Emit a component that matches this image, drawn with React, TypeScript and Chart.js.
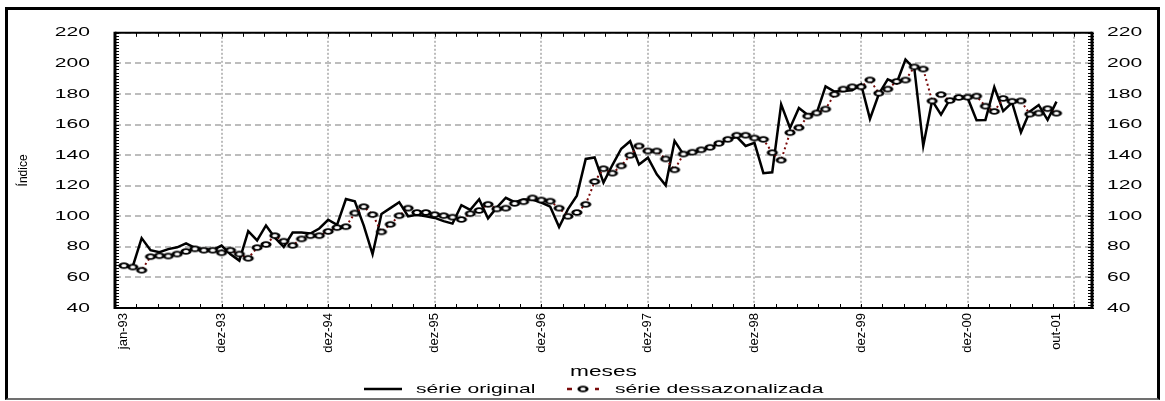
import React, { useEffect, useRef } from 'react';
import { Chart, registerables } from 'chart.js';

Chart.register(...registerables);

// ---------- data ----------
const MONTH_ABBR = ['jan', 'fev', 'mar', 'abr', 'mai', 'jun', 'jul', 'ago', 'set', 'out', 'nov', 'dez'];
const YEARS = ['93', '94', '95', '96', '97', '98', '99', '00', '01'];
const MONTHS: string[] = [];
YEARS.forEach((y) => MONTH_ABBR.forEach((m) => MONTHS.push(`${m}-${y}`)));
MONTHS.length = 106; // jan-93 .. out-01

const SERIE_ORIGINAL = [
  67.5, 67.2, 85.7, 77.8, 76.5, 78.5, 79.7, 82.3, 79.3, 78.5, 77.8, 80.8,
  75.2, 71.0, 90.2, 84.2, 94.0, 86.0, 79.9, 89.4, 89.4, 88.7, 92.0, 97.7,
  94.4, 111.3, 109.8, 94.0, 75.2, 101.5, 105.3, 109.2, 100.0, 101.0, 100.0, 98.9,
  96.8, 95.2, 107.2, 104.2, 111.1, 98.6, 105.8, 112.1, 109.2, 111.0, 111.0, 109.0,
  106.3, 93.0, 104.7, 113.5, 137.5, 138.5, 122.0, 133.5, 144.2, 149.1, 133.8, 138.3,
  127.5, 120.2, 149.3, 140.5, 141.5, 143.0, 145.0, 147.5, 150.0, 152.0, 146.0, 148.0,
  128.2, 128.8, 173.2, 157.8, 170.8, 166.3, 167.5, 185.0, 181.6, 182.0, 182.4, 186.4,
  163.7, 180.0, 189.5, 187.0, 202.5, 196.5, 146.0, 175.7, 166.5, 176.4, 177.0, 177.4,
  162.8, 163.0, 184.5, 168.8, 174.4, 154.9, 168.5, 172.8, 163.0, 175.0,
];

const SERIE_DESSAZ = [
  67.7, 66.8, 64.7, 73.6, 74.2, 74.0, 75.3, 77.0, 78.7, 77.8, 77.8, 76.1,
  77.8, 75.3, 72.5, 79.5, 81.6, 87.3, 83.7, 81.0, 85.2, 87.3, 87.3, 90.1,
  92.6, 93.2, 102.1, 106.3, 101.1, 89.8, 94.7, 100.4, 105.3, 102.5, 102.5, 101.1,
  100.4, 99.4, 97.9, 101.7, 103.8, 107.8, 104.8, 105.3, 108.4, 109.5, 112.0, 110.6,
  109.9, 105.3, 100.0, 102.5, 107.8, 122.7, 131.1, 128.2, 133.0, 139.9, 146.0, 142.7,
  142.7, 137.5, 130.4, 140.7, 141.9, 143.5, 145.1, 147.7, 150.3, 153.0, 153.0, 151.2,
  150.3, 141.6, 136.7, 154.7, 157.9, 165.5, 167.6, 170.1, 179.8, 183.2, 184.7, 184.7,
  189.2, 180.5, 183.2, 188.2, 189.1, 197.7, 196.3, 175.4, 179.6, 175.7, 177.7, 177.9,
  178.6, 172.0, 168.6, 177.1, 175.2, 175.5, 166.8, 167.5, 170.4, 167.4,
];

const LABELED_TICKS = [0, 11, 23, 35, 47, 59, 71, 83, 95, 105];
const GRID_TICKS = [11, 23, 35, 47, 59, 71, 83, 95, 107];
const X_MIN = -1;
const X_MAX = 109;
const X_MINOR_PER_MAJOR = 5;
const Y_MIN = 40;
const Y_MAX = 220;
const Y_STEP = 20;
const Y_MINOR = 2;

const SERIES_NAMES = ['série original', 'série dessazonalizada'];

// ---------- styling ----------
const FONT = '"Liberation Sans", Arial, sans-serif';
const TEXT_SX = 1.62; // horizontal stretch of upright text, as in the reference
const GRID_COLOR = '#bdbdbd';
const DESSAZ_COLOR = '#7a0a0a';

function makeEllipse(): HTMLCanvasElement {
  const c = document.createElement('canvas');
  c.width = 14;
  c.height = 9;
  const g = c.getContext('2d')!;
  g.save();
  g.translate(7, 4.5);
  g.scale(1.7, 1);
  g.beginPath();
  g.arc(0, 0, 2.45, 0, Math.PI * 2);
  g.fillStyle = '#ffffff';
  g.fill();
  g.lineWidth = 1.7;
  g.strokeStyle = '#000000';
  g.stroke();
  g.restore();
  return c;
}

const stretchTextPlugin = {
  id: 'stretchText',
  beforeInit(chart: any) {
    const ctx = chart.ctx as any;
    const orig = ctx.fillText.bind(ctx);
    ctx.fillText = function (text: string, x: number, y: number, maxWidth?: number) {
      const m = ctx.getTransform();
      const rotated = Math.abs(m.b) > 1e-6 || Math.abs(m.c) > 1e-6;
      if (!rotated) {
        const p = m.transformPoint(new DOMPoint(x, y));
        const s = new DOMMatrix()
          .translate(p.x, p.y)
          .scale(TEXT_SX, 1)
          .translate(-p.x, -p.y)
          .multiply(m);
        ctx.setTransform(s);
      }
      if (maxWidth === undefined || maxWidth === null) orig(text, x, y);
      else orig(text, x, y, maxWidth);
      ctx.setTransform(m);
    };
  },
};

const framePlugin = {
  id: 'frame',
  beforeDatasetsDraw(chart: any) {
    const { ctx, chartArea, scales } = chart;
    const { left, right, top, bottom } = chartArea;
    const x = scales.x;
    const y = scales.y;
    ctx.save();
    ctx.strokeStyle = '#000';
    ctx.setLineDash([]);
    ctx.lineWidth = 1;
    ctx.beginPath();
    for (let v = Y_MIN; v <= Y_MAX; v += Y_MINOR) {
      const py = Math.round(y.getPixelForValue(v)) + 0.5;
      ctx.moveTo(left, py);
      ctx.lineTo(left + 4, py);
      ctx.moveTo(right - 4, py);
      ctx.lineTo(right + 2, py);
    }
    const minorStep = 12 / X_MINOR_PER_MAJOR;
    for (let k = 0; X_MIN + k * minorStep <= X_MAX + 1e-6; k++) {
      const px = Math.round(x.getPixelForValue(X_MIN + k * minorStep)) + 0.5;
      ctx.moveTo(px, bottom - 4);
      ctx.lineTo(px, bottom);
      ctx.moveTo(px, top);
      ctx.lineTo(px, top + 4);
    }
    ctx.stroke();
    ctx.lineWidth = 2;
    ctx.beginPath();
    ctx.moveTo(left, top);
    ctx.lineTo(right, top);
    ctx.moveTo(left, bottom);
    ctx.lineTo(right, bottom);
    ctx.stroke();
    ctx.lineWidth = 3;
    ctx.beginPath();
    ctx.moveTo(left, top - 1);
    ctx.lineTo(left, bottom + 1);
    ctx.moveTo(right, top - 1);
    ctx.lineTo(right, bottom + 1);
    ctx.stroke();
    ctx.restore();
  },
};

function makeLegendPlugin(marker: HTMLCanvasElement) {
  return {
    id: 'customLegend',
    afterDraw(chart: any) {
      const { ctx } = chart;
      const ly = 389;
      ctx.save();
      ctx.font = `13px ${FONT}`;
      ctx.fillStyle = '#000';
      ctx.textAlign = 'left';
      ctx.textBaseline = 'middle';
      // série original
      ctx.strokeStyle = '#000';
      ctx.lineWidth = 2.5;
      ctx.setLineDash([]);
      ctx.beginPath();
      ctx.moveTo(364, ly);
      ctx.lineTo(402, ly);
      ctx.stroke();
      ctx.fillText(SERIES_NAMES[0], 416, ly);
      // série dessazonalizada
      ctx.strokeStyle = DESSAZ_COLOR;
      ctx.lineWidth = 2.5;
      ctx.setLineDash([5, 9]);
      ctx.beginPath();
      ctx.moveTo(567, ly);
      ctx.lineTo(599, ly);
      ctx.stroke();
      ctx.setLineDash([]);
      ctx.drawImage(marker, 583 - marker.width / 2, ly - marker.height / 2);
      ctx.fillText(SERIES_NAMES[1], 615, ly);
      ctx.restore();
    },
  };
}

export default function App() {
  const canvasRef = useRef<HTMLCanvasElement | null>(null);

  useEffect(() => {
    const canvas = canvasRef.current;
    if (!canvas) return;
    const marker = makeEllipse();
    Chart.defaults.font.family = FONT;
    Chart.defaults.color = '#000';

    const chart = new Chart(canvas, {
      type: 'line',
      data: {
        datasets: [
          {
            label: SERIES_NAMES[1],
            data: SERIE_DESSAZ.map((v, i) => ({ x: i, y: v })),
            borderColor: DESSAZ_COLOR,
            borderWidth: 2,
            borderDash: [2, 3],
            pointStyle: marker as any,
            pointRadius: 5,
            pointHoverRadius: 5,
            tension: 0,
            order: 1,
          },
          {
            label: SERIES_NAMES[0],
            data: SERIE_ORIGINAL.map((v, i) => ({ x: i, y: v })),
            borderColor: '#000000',
            borderWidth: 2.5,
            pointRadius: 0,
            tension: 0,
            order: 2,
          },
        ],
      },
      options: {
        responsive: false,
        animation: false,
        events: [],
        layout: { padding: { left: 8, right: 8, top: 23, bottom: 20 } },
        plugins: {
          legend: { display: false },
          tooltip: { enabled: false },
          title: { display: false },
        },
        scales: {
          x: {
            type: 'linear',
            min: X_MIN,
            max: X_MAX,
            afterBuildTicks: (scale: any) => {
              const vals = Array.from(new Set([...LABELED_TICKS, ...GRID_TICKS])).sort((a, b) => a - b);
              scale.ticks = vals.map((v) => ({ value: v }));
            },
            afterFit: (scale: any) => {
              scale.height = 73;
            },
            ticks: {
              autoSkip: false,
              minRotation: 90,
              maxRotation: 90,
              padding: 5,
              color: '#000',
              font: { size: 13, family: FONT },
              callback: (v: any) => (LABELED_TICKS.includes(Number(v)) ? MONTHS[Number(v)] : ''),
            },
            grid: {
              color: (c: any) => (c.tick && GRID_TICKS.includes(c.tick.value) ? GRID_COLOR : 'rgba(0,0,0,0)'),
              lineWidth: 2,
              drawTicks: false,
            },
            border: { display: false, dash: [2, 2] },
            title: {
              display: true,
              text: 'meses',
              color: '#000',
              font: { size: 14, family: FONT },
              padding: { top: 0, bottom: 0 },
            },
          },
          y: {
            position: 'left',
            min: Y_MIN,
            max: Y_MAX,
            afterFit: (scale: any) => {
              scale.width = 107;
            },
            ticks: {
              stepSize: Y_STEP,
              padding: 25,
              color: '#000',
              font: { size: 13, family: FONT },
            },
            grid: { color: GRID_COLOR, lineWidth: 2, drawTicks: false },
            border: { display: false, dash: [6, 4] },
            title: {
              display: true,
              text: 'Índice',
              color: '#000',
              font: { size: 12, family: FONT },
              padding: { top: 8, bottom: 0 },
            },
          },
          y2: {
            position: 'right',
            min: Y_MIN,
            max: Y_MAX,
            afterFit: (scale: any) => {
              scale.width = 65;
            },
            ticks: {
              stepSize: Y_STEP,
              padding: 15,
              color: '#000',
              font: { size: 13, family: FONT },
            },
            grid: { drawOnChartArea: false, drawTicks: false },
            border: { display: false },
          },
        },
      },
      plugins: [stretchTextPlugin, framePlugin, makeLegendPlugin(marker)],
    } as any);

    return () => {
      chart.destroy();
    };
  }, []);

  return (
    <div
      style={{
        position: 'fixed',
        left: 0,
        top: 0,
        width: 1165,
        height: 401,
        background: '#ffffff',
        overflow: 'hidden',
      }}
    >
      <canvas
        ref={canvasRef}
        width={1165}
        height={401}
        style={{ position: 'absolute', left: 0, top: 0, width: 1165, height: 401 }}
      />
      <div
        style={{
          position: 'absolute',
          left: 5,
          top: 7,
          width: 1155,
          height: 393,
          boxSizing: 'border-box',
          borderLeft: '3px solid #000',
          borderTop: '3px solid #000',
          borderRight: '3px solid #000',
          borderBottom: '2px solid #707070',
          pointerEvents: 'none',
        }}
      />
    </div>
  );
}
